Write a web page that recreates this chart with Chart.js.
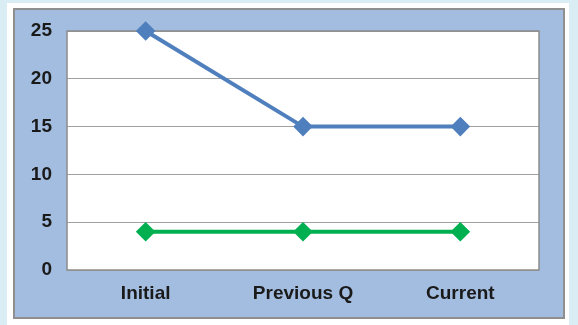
<!DOCTYPE html>
<html>
<head>
<meta charset="utf-8">
<script src="https://cdn.jsdelivr.net/npm/chart.js@4/dist/chart.umd.min.js"></script>
<style>
  html, body { margin: 0; padding: 0; background: #dbedf4; }
  #wrap { position: absolute; left: 0; top: 0; width: 578px; height: 325px; }
</style>
</head>
<body>
<div id="wrap"><canvas id="chart" width="578" height="325"></canvas></div>
<script>
// Chart data
const categories = ['Initial', 'Previous Q', 'Current'];
const blueValues = [25, 15, 15];
const greenValues = [4, 4, 4];
const yTicks = [0, 5, 10, 15, 20, 25];

// Draw the page panel, the blue box and the white plot area
const backdrop = {
    id: 'backdrop',
    beforeDraw(chart) {
        const ctx = chart.ctx;
        const a = chart.chartArea;
        ctx.save();
        ctx.fillStyle = '#dbedf4';
        ctx.fillRect(0, 0, 578, 325);
        ctx.fillStyle = '#ffffff';
        ctx.fillRect(7, 3, 562, 322);
        ctx.fillStyle = '#a3bde0';
        ctx.fillRect(13, 8, 552, 311);
        ctx.strokeStyle = '#8f8f8f';
        ctx.lineWidth = 2;
        ctx.strokeRect(14, 9, 550, 309);
        ctx.fillStyle = '#ffffff';
        ctx.fillRect(a.left, a.top, a.right - a.left, a.bottom - a.top);
        ctx.restore();
    },
    beforeDatasetsDraw(chart) {
        const ctx = chart.ctx;
        const a = chart.chartArea;
        ctx.save();
        ctx.strokeStyle = '#8c8c8c';
        ctx.lineWidth = 1.5;
        ctx.strokeRect(a.left, a.top, a.right - a.left, a.bottom - a.top);
        ctx.restore();
    }
};

const labelFont = { family: 'Liberation Sans, Arial', weight: 'bold' };

new Chart(document.getElementById('chart').getContext('2d'), {
    type: 'line',
    data: {
        labels: categories,
        datasets: [{
            data: blueValues,
            borderColor: '#4f7fbd',
            backgroundColor: '#4f7fbd',
            borderWidth: 4,
            pointStyle: 'rectRot',
            pointRadius: 7,
            pointHoverRadius: 7,
            tension: 0,
            clip: false
        }, {
            data: greenValues,
            borderColor: '#00b050',
            backgroundColor: '#00b050',
            borderWidth: 4,
            pointStyle: 'rectRot',
            pointRadius: 7,
            pointHoverRadius: 7,
            tension: 0,
            clip: false
        }]
    },
    options: {
        responsive: false,
        animation: false,
        layout: { padding: { left: 0, right: 39, top: 31, bottom: 0 } },
        plugins: { legend: { display: false }, tooltip: { enabled: false } },
        scales: {
            x: {
                offset: true,
                grid: { display: false, drawTicks: false },
                border: { display: false },
                ticks: {
                    color: '#1a1a1a',
                    padding: 12,
                    font: { ...labelFont, size: 19 }
                },
                afterFit(scale) { scale.height = 55; }
            },
            y: {
                min: 0,
                max: 25,
                afterBuildTicks(scale) { scale.ticks = yTicks.map(v => ({ value: v })); },
                grid: { color: '#a0a0a0', lineWidth: 1, drawTicks: false },
                border: { display: false },
                ticks: {
                    color: '#1a1a1a',
                    padding: 15,
                    font: { ...labelFont, size: 19 }
                },
                afterFit(scale) { scale.width = 67; }
            }
        }
    },
    plugins: [backdrop]
});
</script>
</body>
</html>
